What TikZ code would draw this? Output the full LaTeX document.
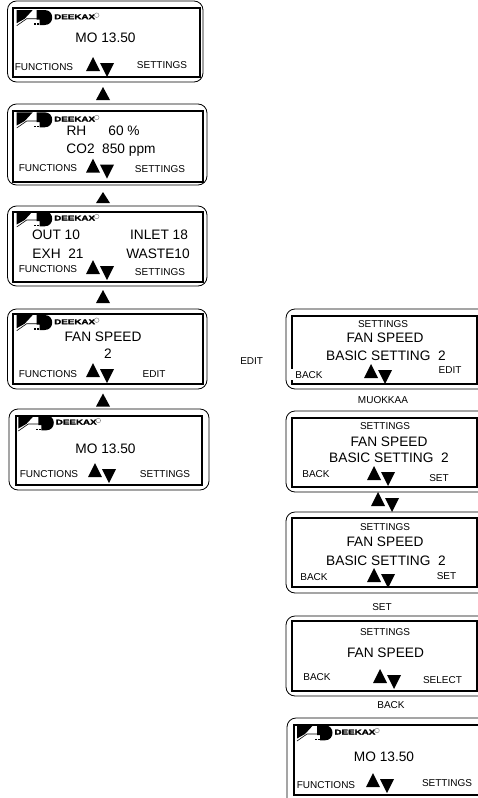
\documentclass[tikz,border=0pt]{standalone}
\usepackage{fontspec}
\setmainfont{Liberation Sans}
\newfontfamily\brandfont[FakeBold=2]{Liberation Sans Bold}
\begin{document}
\begin{tikzpicture}[x=1pt, y=-1pt, inner sep=0pt, outer sep=0pt]

    % Styles
    \tikzstyle{case} = [rectangle, draw, rounded corners=9pt, line width=0.8pt]
    \tikzstyle{display} = [rectangle, draw, line width=2pt]
    \tikzstyle{big} = [text height=9.8pt, text depth=0pt, font=\fontsize{13.7}{14}\selectfont]
    \tikzstyle{small} = [text height=7.2pt, text depth=0pt, font=\fontsize{10}{11}\selectfont]
    \tikzset{
      upkey/.pic={
        \fill (-7,13) -- (0,0) -- (7,13) -- cycle;
      },
      updown/.pic={
        \fill (-14,14) -- (-7,0) -- (0,14) -- cycle;
        \fill (0,6) -- (14,6) -- (7,20) -- cycle;
      },
      logo/.pic={
        \fill (0,-6.7) -- (16,-6.7) -- (8,2) -- (0,6.5) -- cycle;
        \draw[line width=0.6pt] (0,9) -- (10,2) -- (21,2);
        \fill (20,-6.7) -- (28,-6.7) .. controls (38,-6.7) and (38,8.3) .. (28,8.3) -- (23,8.3) -- (23,3) -- (20,3) -- cycle;
        \fill (17.5,6.5) rectangle (19.5,8.3);
        \fill (20.5,6.5) rectangle (22.5,8.3);
        \node[anchor=west, xscale=1.4, text height=5pt, text depth=0pt, font=\fontsize{7}{7}\brandfont] (brand) at (37.5,0) {DEEKAX};
        \draw[black!45, line width=0.5pt] (80,-1.5) circle (2.3);
      }
    }

    \path[use as bounding box, clip] (0,0) rectangle (478,798);
    \fill[white] (0,0) rectangle (478,798);

    % Left column
    \node[case, minimum width=195.5pt, minimum height=81pt] (clock_case) at (105.25,41.5) {};
    \node[display, minimum width=187pt, minimum height=69pt] (clock_display) at (106.5,42.5) {};
    \pic (clock_logo) at (16.7,16.7) {logo};
    \node[big] (clock_time) at (105.5,38) {MO 13.50};
    \node[small] (clock_functions) at (44,67) {FUNCTIONS};
    \node[small] (clock_settings) at (162,65) {SETTINGS};
    \pic (clock_keys) at (100,57) {updown};

    \pic (up_a) at (103,87) {upkey};

    \node[case, minimum width=199.5pt, minimum height=81pt] (air_case) at (107.25,144.5) {};
    \node[display, minimum width=190pt, minimum height=71pt] (air_display) at (108,146.5) {};
    \pic (air_logo) at (16.7,119) {logo};
    \node[big] (air_rh) at (76.5,131) {RH};
    \node[big] (air_value) at (124,131) {60 \%};
    \node[big] (air_co) at (111,149) {CO2\ \ 850 ppm};
    \node[small] (air_functions) at (48,168) {FUNCTIONS};
    \node[small] (air_settings) at (160,169) {SETTINGS};
    \pic (air_keys) at (100,158.7) {updown};

    \pic[yscale=0.85] (up_b) at (103,192) {upkey};

    \node[case, minimum width=199.5pt, minimum height=80pt] (temp_case) at (107.25,246) {};
    \node[display, minimum width=190pt, minimum height=70pt] (temp_display) at (108,247) {};
    \pic (temp_logo) at (16.7,218) {logo};
    \node[big] (temp_out) at (56,235) {OUT 10};
    \node[big] (temp_inlet) at (159,235) {INLET 18};
    \node[big] (temp_exh) at (58,254) {EXH\ \ 21};
    \node[big] (temp_waste) at (158,254) {WASTE10};
    \node[small] (temp_functions) at (48,269) {FUNCTIONS};
    \node[small] (temp_settings) at (160,272) {SETTINGS};
    \pic (temp_keys) at (100,260) {updown};

    \pic (up_c) at (103,290) {upkey};

    \node[case, minimum width=199.5pt, minimum height=80pt] (speed_case) at (107.25,349) {};
    \node[display, minimum width=190pt, minimum height=70pt] (speed_display) at (108,349) {};
    \pic (speed_logo) at (16.7,321.7) {logo};
    \node[big] (speed_title) at (103,337) {FAN SPEED};
    \node[big] (speed_value) at (108,354) {2};
    \node[small] (speed_functions) at (48,374) {FUNCTIONS};
    \node[small] (speed_edit) at (154,374) {EDIT};
    \pic (speed_keys) at (100,363) {updown};

    \pic (up_d) at (103,393.5) {upkey};

    \node[case, minimum width=200pt, minimum height=81pt] (home_case) at (109,449.5) {};
    \node[display, minimum width=186pt, minimum height=69pt] (home_display) at (109,450.5) {};
    \pic (home_logo) at (18.3,422) {logo};
    \node[big] (home_time) at (105.5,449) {MO 13.50};
    \node[small] (home_functions) at (49,474) {FUNCTIONS};
    \node[small] (home_settings) at (165,474) {SETTINGS};
    \pic (home_keys) at (102,463) {updown};

    \node[small] (edit_label) at (251.7,361) {EDIT};

    % Right column
    \node[case, minimum width=214pt, minimum height=80pt] (edit_case) at (393,349) {};
    \node[display, minimum width=185pt, minimum height=68pt] (edit_display) at (384.5,350) {};
    \fill[white] (290,369) rectangle (297,380);
    \node[small] (edit_menu) at (383,324) {SETTINGS};
    \node[big] (edit_title) at (385,338) {FAN SPEED};
    \node[big] (edit_basic) at (386,356) {BASIC SETTING\ \ 2};
    \node[small] (edit_back) at (309,375) {BACK};
    \node[small] (edit_edit) at (450,370) {EDIT};
    \pic (edit_keys) at (378,364) {updown};

    \node[small] (muokkaa_label) at (383,400) {MUOKKAA};

    \node[case, minimum width=214pt, minimum height=81pt] (set_case) at (393,451.5) {};
    \node[display, minimum width=185pt, minimum height=69pt] (set_display) at (384.5,452.5) {};
    \node[small] (set_menu) at (385,426) {SETTINGS};
    \node[big] (set_title) at (389,442) {FAN SPEED};
    \node[big] (set_basic) at (389,458) {BASIC SETTING\ \ 2};
    \node[small] (set_back) at (316,474) {BACK};
    \node[small] (set_set) at (439,478) {SET};
    \pic (set_keys) at (381,466) {updown};

    \pic (between_keys) at (385,492) {updown};

    \node[case, minimum width=214pt, minimum height=81pt] (change_case) at (393,552.5) {};
    \node[display, minimum width=185pt, minimum height=69pt] (change_display) at (384.5,552.5) {};
    \node[small] (change_menu) at (385,527) {SETTINGS};
    \node[big] (change_title) at (385,542) {FAN SPEED};
    \node[big] (change_basic) at (386,561) {BASIC SETTING\ \ 2};
    \node[small] (change_back) at (314,577) {BACK};
    \node[small] (change_set) at (446.5,576) {SET};
    \pic (change_keys) at (381,568) {updown};

    \node[small] (set_label) at (382,607) {SET};

    \node[case, minimum width=214pt, minimum height=80pt] (select_case) at (393,656) {};
    \node[display, minimum width=185pt, minimum height=70pt] (select_display) at (384.5,656) {};
    \node[small] (select_menu) at (385,632) {SETTINGS};
    \node[big] (select_title) at (385.5,653) {FAN SPEED};
    \node[small] (select_back) at (317,677) {BACK};
    \node[small] (select_select) at (442.5,680) {SELECT};
    \pic (select_keys) at (387,669) {updown};

    \node[small] (back_label) at (391,705) {BACK};

    \node[case, minimum width=213pt, minimum height=92pt] (end_case) at (393.5,764) {};
    \node[display, minimum width=206pt, minimum height=70pt] (end_display) at (397,760) {};
    \pic (end_logo) at (297,732) {logo};
    \node[big] (end_time) at (384,757) {MO 13.50};
    \node[small] (end_functions) at (326,785) {FUNCTIONS};
    \node[small] (end_settings) at (447,783) {SETTINGS};
    \pic (end_keys) at (380,773) {updown};

\end{tikzpicture}
\end{document}
